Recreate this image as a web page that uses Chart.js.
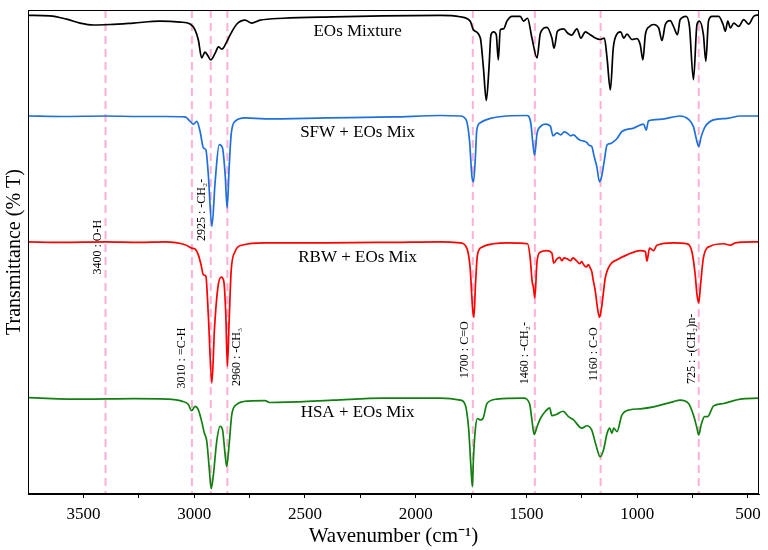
<!DOCTYPE html>
<html><head><meta charset="utf-8">
<script src="https://cdn.jsdelivr.net/npm/chart.js@4.4.0/dist/chart.umd.min.js"></script>
<style>html,body{margin:0;padding:0;background:#fff}</style>
</head><body>
<canvas id="c" width="768" height="550" style="width:768px;height:550px;display:block"></canvas>
<script>
// ---- data ----
const seriesNames = ['EOs Mixture', 'SFW + EOs Mix', 'RBW + EOs Mix', 'HSA + EOs Mix'];

const eosWn = [3750,3651,3575,3515,3455,3380,3275,3154,3063,3018,2996,2981,2966,2951,2940,2925,2905,2890,2875,2853,2838,2807,2770,2740,2702,2598,2372,2147,1889,1799,1754,1739,1708,1694,1681,1669,1660,1648,1636,1627,1618,1603,1588,1565,1528,1513,1495,1475,1452,1437,1407,1385,1375,1360,1332,1313,1296,1272,1254,1234,1212,1189,1167,1148,1136,1121,1108,1093,1075,1060,1046,1023,1001,986,974,963,944,926,903,888,873,851,836,818,806,779,764,746,730,719,701,690,678,662,632,612,602,591,579,564,542,519,497,474,452];
const eosT = [98.9,98.8,98.1,97.3,96.9,97.0,97.3,97.7,97.5,97.1,95.9,93.8,90.1,91.3,90.7,89.7,91.1,92.4,91.9,93.4,94.8,97.1,97.9,97.3,97.9,98.3,98.6,98.8,98.9,98.6,97.7,95.9,94.2,88.0,81.3,88.0,94.9,95.5,94.9,89.7,95.9,96.1,97.7,98.7,98.7,97.7,98.3,94.2,90.1,95.2,96.4,94.2,92.1,95.6,96.1,95.2,94.8,96.1,94.2,95.5,94.9,94.2,93.9,94.2,90.1,83.5,92.1,94.9,95.5,94.2,95.0,93.9,94.1,92.8,89.7,94.9,96.6,97.0,96.3,93.7,97.0,97.8,96.6,94.9,98.0,98.7,96.6,85.6,97.0,97.7,94.9,89.4,97.7,98.7,98.7,97.0,95.6,97.7,96.3,97.3,96.6,98.0,97.1,98.7,99.0];

const sfwWn = [3750,3600,3400,3250,3131,3041,3018,3003,2988,2973,2958,2947,2936,2920,2905,2887,2872,2860,2851,2842,2833,2815,2770,2680,2400,2100,1889,1799,1772,1757,1746,1739,1731,1724,1708,1663,1588,1498,1480,1471,1463,1452,1437,1414,1392,1380,1362,1345,1330,1317,1300,1287,1270,1257,1240,1227,1215,1205,1194,1182,1170,1159,1148,1136,1120,1106,1090,1069,1016,971,959,949,896,806,768,746,730,722,711,693,655,594,534,452];
const sfwT = [78.1,78.0,78.1,78.0,78.0,77.9,77.0,76.4,77.0,74.9,71.5,71.1,66.0,55.3,64.6,72.2,71.5,66.0,59.1,67.4,74.2,77.0,77.7,77.5,77.7,77.9,78.2,78.1,77.3,73.1,65.6,64.5,69.0,75.2,76.7,77.6,78.1,78.2,76.6,72.5,70.0,74.5,75.9,76.4,76.0,74.0,74.6,74.2,74.8,74.6,74.0,74.2,73.5,73.1,72.9,72.6,72.0,71.8,69.7,67.6,64.5,65.9,69.0,72.1,72.4,72.8,73.5,74.9,75.6,76.4,75.2,77.1,77.4,78.1,77.4,75.9,72.8,71.8,73.8,75.9,77.3,77.6,78.1,78.1];

const rbwWn = [3750,3600,3400,3250,3131,3041,3011,2993,2981,2969,2958,2947,2936,2920,2908,2893,2878,2866,2857,2850,2842,2833,2815,2785,2680,2400,2100,1889,1799,1769,1754,1743,1737,1730,1721,1701,1648,1588,1495,1483,1474,1468,1462,1452,1437,1407,1385,1377,1362,1350,1340,1330,1317,1300,1290,1272,1260,1250,1242,1230,1220,1212,1204,1200,1189,1179,1170,1159,1144,1121,1091,1046,986,963,956,944,926,911,836,776,753,738,730,722,715,701,670,610,579,557,452];
const rbwT = [52.1,52.0,52.1,52.0,52.1,51.5,50.8,50.5,49.4,47.4,45.3,45.0,37.0,22.9,34.3,42.6,44.8,43.9,37.0,26.4,35.7,46.0,50.1,51.4,51.9,51.9,52.0,52.1,51.9,50.8,46.7,38.4,36.5,43.2,49.4,51.0,51.7,51.9,51.7,48.8,43.9,42.6,40.5,48.1,50.0,50.3,49.8,47.7,48.6,48.9,48.2,48.8,48.6,48.2,48.8,48.1,47.6,48.0,47.4,46.9,47.4,46.7,45.8,44.6,41.9,38.4,36.5,39.1,44.6,47.4,48.4,49.4,50.3,50.1,48.1,50.8,50.3,51.4,51.9,51.7,50.1,45.3,41.2,39.5,42.6,48.8,51.2,51.7,51.4,51.9,52.1];

const hsaWn = [3750,3500,3275,3124,3056,3026,3011,2996,2981,2966,2954,2943,2932,2923,2913,2898,2883,2872,2860,2853,2842,2830,2807,2755,2680,2660,2372,2147,1889,1799,1776,1761,1750,1744,1739,1730,1721,1708,1696,1678,1633,1513,1486,1474,1465,1452,1437,1414,1395,1385,1362,1335,1310,1287,1250,1227,1205,1186,1167,1152,1136,1124,1114,1106,1091,1069,1032,986,926,836,806,768,746,730,722,711,696,682,655,610,579,534,452];
const hsaT = [19.9,19.6,19.7,19.6,19.2,18.5,17.2,18.1,17.4,15.0,12.6,10.9,5.4,1.1,4.0,10.9,14.0,13.3,8.1,5.7,10.2,16.4,18.5,19.2,19.3,18.9,19.4,19.8,19.8,19.4,18.4,13.6,5.3,1.5,7.4,13.6,15.6,15.3,15.6,18.7,19.6,19.8,18.7,14.9,12.3,13.9,15.6,17.1,17.8,16.2,16.5,17.1,16.0,15.3,13.6,14.1,13.2,10.1,7.7,9.1,12.5,13.6,12.5,13.6,12.9,16.3,17.4,17.6,18.0,19.1,19.4,18.7,16.3,13.6,12.2,14.3,16.0,16.0,18.2,18.7,19.1,19.6,19.8];

const bandWn = [3400, 3010, 2925, 2850, 1742, 1462, 1165, 722];
const bandLabels = ['3400 : O-H', '3010 : =C-H', '2925 : -CH\u2082-', '2960 : -CH\u2083', '1700 : C=O', '1460 : -CH\u2082-', '1160 : C-O', '725 : -(CH\u2082)n-'];
const majorTicks = [3500, 3000, 2500, 2000, 1500, 1000, 500];
const minorTicks = [3250, 2750, 2250, 1750, 1250, 750];

// ---- placement / style (not data) ----
const colors = ['#000000', '#1f6fdc', '#ff0000', '#118011'];
const bandLabelY = [51.0, 28.1, 58.7, 28.3, 29.8, 29.1, 28.9, 30.0];
const bandLabelDx = [-8, -10, -9, 9, -8, -10, -7, -7];
const nameX = 2262;
const nameY = [95.5, 74.7, 48.8, 16.8];
const FONT = 'Liberation Serif';

const toPts = (w, t) => w.map((x, i) => ({x: x, y: t[i]}));
const series = [toPts(eosWn, eosT), toPts(sfwWn, sfwT), toPts(rbwWn, rbwT), toPts(hsaWn, hsaT)];

const decor = {
  id: 'decor',
  beforeDatasetsDraw(chart) {
    const {ctx, chartArea: a, scales: {x}} = chart;
    ctx.save();
    ctx.strokeStyle = '#ffb0d6';
    ctx.lineWidth = 2;
    ctx.setLineDash([8, 5]);
    bandWn.forEach(w => {
      const px = x.getPixelForValue(w);
      ctx.beginPath(); ctx.moveTo(px, a.top); ctx.lineTo(px, a.bottom); ctx.stroke();
    });
    ctx.restore();
  },
  afterDatasetsDraw(chart) {
    const {ctx, chartArea: a, scales: {x, y}} = chart;
    ctx.save();
    ctx.strokeStyle = '#000'; ctx.lineWidth = 1;
    ctx.strokeRect(Math.round(a.left) + 0.5, Math.round(a.top) + 0.5, Math.round(a.width) - 1, Math.round(a.height) - 1);
    ctx.fillStyle = '#000';
    ctx.textAlign = 'center'; ctx.textBaseline = 'middle';
    ctx.font = '12px "' + FONT + '"';
    bandLabels.forEach((t, i) => {
      const px = x.getPixelForValue(bandWn[i]) + bandLabelDx[i];
      const py = y.getPixelForValue(bandLabelY[i]);
      ctx.save(); ctx.translate(px, py); ctx.rotate(-Math.PI / 2); ctx.fillText(t, 0, 0); ctx.restore();
    });
    ctx.font = '17px "' + FONT + '"';
    seriesNames.forEach((n, i) => {
      ctx.fillText(n, x.getPixelForValue(nameX), y.getPixelForValue(nameY[i]));
    });
    ctx.restore();
  }
};

new Chart(document.getElementById('c'), {
  type: 'line',
  data: {
    datasets: series.map((d, i) => ({
      label: seriesNames[i], data: d, borderColor: colors[i], borderWidth: 1.7,
      pointRadius: 0, fill: false, cubicInterpolationMode: 'monotone'
    }))
  },
  options: {
    responsive: false, animation: false, devicePixelRatio: 1,
    layout: {padding: {top: 10, right: 9, left: 0, bottom: 0}},
    plugins: {legend: {display: false}, tooltip: {enabled: false}},
    scales: {
      x: {
        type: 'linear', reverse: true, min: 450, max: 3750,
        afterBuildTicks(s) { s.ticks = majorTicks.concat(minorTicks).sort((a, b) => a - b).map(v => ({value: v})); },
        ticks: {autoSkip: false, maxRotation: 0, color: '#000', padding: 6,
          font: {family: FONT, size: 17},
          callback: v => majorTicks.includes(v) ? String(v) : ''},
        grid: {drawOnChartArea: false, drawTicks: true, tickLength: 4, color: '#000'},
        border: {display: true, color: '#000'},
        title: {display: true, text: 'Wavenumber (cm\u207B\u00B9)', color: '#000',
          font: {family: FONT, size: 21}, padding: {top: 0, bottom: 1}},
        afterFit(s) { s.height = 56; }
      },
      y: {
        min: 0, max: 100,
        ticks: {display: false},
        grid: {display: false, drawTicks: false},
        border: {display: true, color: '#000'},
        title: {display: true, text: 'Transmittance (% T)', color: '#000',
          font: {family: FONT, size: 20}, padding: {top: 3, bottom: 0}},
        afterFit(s) { s.width = 28; }
      }
    }
  },
  plugins: [decor]
});
</script>
</body></html>
